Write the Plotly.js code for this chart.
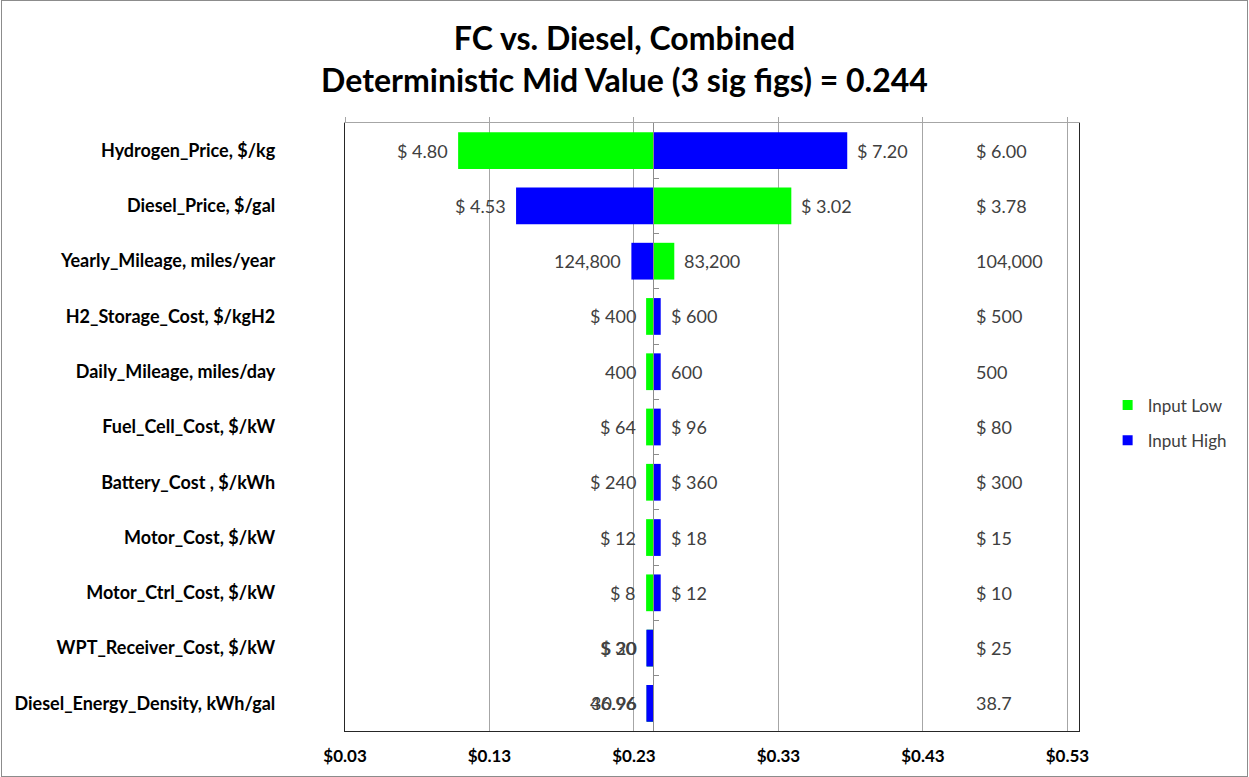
<!DOCTYPE html>
<html>
<head>
<meta charset="utf-8">
<script src="https://cdn.plot.ly/plotly-3.0.1.min.js"></script>
<style>
  html, body { margin: 0; padding: 0; background: #fff; }
  #chart { width: 1249px; height: 777px; }
  #frame { position: absolute; left: 1px; top: 0px; width: 1245px; height: 775px; border: 1px solid #8c8c8c; pointer-events: none; }
</style>
</head>
<body>
<div id="chart"></div>
<div id="frame"></div>
<script>
// ---- data ----
const categories = [
  "Hydrogen_Price, $/kg",
  "Diesel_Price, $/gal",
  "Yearly_Mileage, miles/year",
  "H2_Storage_Cost, $/kgH2",
  "Daily_Mileage, miles/day",
  "Fuel_Cell_Cost, $/kW",
  "Battery_Cost , $/kWh",
  "Motor_Cost, $/kW",
  "Motor_Ctrl_Cost, $/kW",
  "WPT_Receiver_Cost, $/kW",
  "Diesel_Energy_Density, kWh/gal"
];
// output value when input is set low / high
const lowOutput  = [0.1083, 0.3389, 0.2579, 0.2384, 0.2384, 0.2384, 0.2384, 0.2384, 0.2384, 0.2388, 0.2388];
const highOutput = [0.3776, 0.1484, 0.2282, 0.2485, 0.2485, 0.2485, 0.2485, 0.2485, 0.2485, 0.2386, 0.2386];
// input labels
const lowInputLabels  = ["$ 4.80", "$ 3.02", "83,200", "$ 400", "400", "$ 64", "$ 240", "$ 12", "$ 8", "$ 20", "30.96"];
const highInputLabels = ["$ 7.20", "$ 4.53", "124,800", "$ 600", "600", "$ 96", "$ 360", "$ 18", "$ 12", "$ 30", "46.96"];
const midInputLabels  = ["$ 6.00", "$ 3.78", "104,000", "$ 500", "500", "$ 80", "$ 300", "$ 15", "$ 10", "$ 25", "38.7"];
const midValue = 0.2435;
const titleMidText = "0.244";
const legendNames = ["Input Low", "Input High"];

// ---- styling ----
const FONT = "Lato, 'Open Sans', sans-serif";
const GREEN = "#00ff00", BLUE = "#0000ff";
const xMin = 0.03, xMax = 0.538;
const GRID = "#a6a6a6", DARK = "#262626";

const traces = [
  {
    type: "bar", orientation: "h", y: categories,
    x: lowOutput.map(v => v - midValue), base: midValue,
    marker: { color: GREEN, line: { width: 0 } },
    name: legendNames[0], showlegend: false
  },
  {
    type: "bar", orientation: "h", y: categories,
    x: highOutput.map(v => v - midValue), base: midValue,
    marker: { color: BLUE, line: { width: 0 } },
    name: legendNames[1], showlegend: false
  },
  {
    type: "scatter", mode: "markers", x: [null], y: [null], name: legendNames[0],
    marker: { symbol: "square", size: 10, color: GREEN }, legendgroup: "a", hoverinfo: "skip"
  },
  {
    type: "scatter", mode: "markers", x: [null], y: [null], name: legendNames[1],
    marker: { symbol: "square", size: 10, color: BLUE }, legendgroup: "b", hoverinfo: "skip"
  },
  {
    type: "scatter", mode: "markers", x: [null], y: [null], xaxis: "x2", yaxis: "y2",
    showlegend: false, hoverinfo: "skip"
  }
];

const annotations = [];
const labelFont = { family: FONT, size: 18, color: "#404040" };
categories.forEach((c, i) => {
  [[lowOutput[i], lowInputLabels[i]], [highOutput[i], highInputLabels[i]]].forEach(([v, t]) => {
    const left = v < midValue;
    annotations.push({
      x: v, y: c, xref: "x", yref: "y", text: t, showarrow: false,
      xanchor: left ? "right" : "left", xshift: left ? -8 : 8,
      font: labelFont
    });
  });
  annotations.push({
    x: 0.4655, y: c, xref: "x", yref: "y", text: midInputLabels[i], showarrow: false,
    xanchor: "left", font: labelFont
  });
});

const boundaryTicks = categories.slice(1).map((_, i) => i + 0.5);
const yRange = [categories.length - 0.5, -0.5];

const layout = {
  width: 1249, height: 777,
  paper_bgcolor: "#ffffff", plot_bgcolor: "#ffffff",
  margin: { l: 345, r: 170, t: 123, b: 46 },
  barmode: "overlay", bargap: 0.335,
  title: {
    text: "FC vs. Diesel, Combined<br>Deterministic Mid Value (3 sig figs) = " + titleMidText,
    font: { family: FONT, size: 32, weight: "bold", color: "#000" },
    x: 0.5, xanchor: "center", xref: "container",
    y: 1 - 50 / 777, yanchor: "middle", yref: "container"
  },
  xaxis: {
    range: [xMin, xMax], tick0: 0.03, dtick: 0.1, tickformat: ".2f", tickprefix: "$",
    showgrid: true, gridcolor: GRID, gridwidth: 1, zeroline: false,
    showline: true, linecolor: DARK, linewidth: 1.3, ticks: "",
    tickfont: { family: FONT, size: 17, weight: "bold", color: "#000" },
    ticklabelstandoff: 9
  },
  xaxis2: {
    overlaying: "x", side: "top", anchor: "y",
    range: [xMin, xMax], tick0: 0.03, dtick: 0.1,
    showgrid: false, zeroline: false, showline: true, linecolor: GRID, linewidth: 1,
    ticks: "outside", ticklen: 5, tickcolor: GRID, showticklabels: false
  },
  yaxis: {
    type: "category", categoryorder: "array", categoryarray: categories,
    range: yRange, showgrid: false, zeroline: false,
    showline: true, mirror: true, linecolor: DARK, linewidth: 1.3, ticks: "",
    tickfont: { family: FONT, size: 18, weight: "bold", color: "#000" },
    ticklabelstandoff: 65
  },
  yaxis2: {
    overlaying: "y", anchor: "free", side: "right",
    position: (midValue - xMin) / (xMax - xMin),
    range: yRange, showgrid: false, zeroline: false,
    showline: true, linecolor: "#8c8c8c", linewidth: 1,
    ticks: "outside", ticklen: 5, tickcolor: "#8c8c8c",
    tickmode: "array", tickvals: boundaryTicks, showticklabels: false
  },
  showlegend: true,
  legend: {
    x: 1.039, xanchor: "left", y: 0.5066, yanchor: "middle",
    font: { family: FONT, size: 17, color: "#404040" },
    traceorder: "grouped", tracegroupgap: 10, bgcolor: "rgba(0,0,0,0)"
  },
  annotations: annotations
};

Plotly.newPlot("chart", traces, layout, { displayModeBar: false, responsive: false });
</script>
</body>
</html>
